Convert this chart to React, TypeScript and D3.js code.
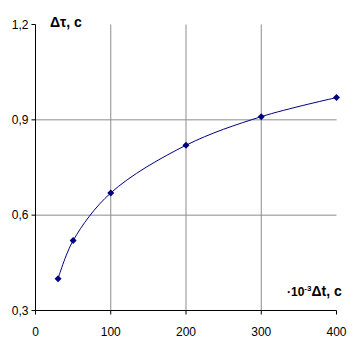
import React from "react";
import * as d3 from "d3";

const xValues = [30, 50, 100, 200, 300, 400];
const yValues = [0.4, 0.52, 0.67, 0.82, 0.91, 0.97];
const xTicks = [0, 100, 200, 300, 400];
const yTicks = [0.3, 0.6, 0.9, 1.2];
const yTitle = "Δτ, c";
const xTitlePre = "·10";
const xTitleSup = "-3";
const xTitlePost = "Δt, c";

export default function App() {
  const W = 362, H = 347;
  const x = d3.scaleLinear().domain([0, 400]).range([35.5, 336.5]);
  const y = d3.scaleLinear().domain([0.3, 1.2]).range([310.5, 24.5]);
  const pts: [number, number][] = xValues.map((v, i) => [x(v), y(yValues[i])]);
  const line = d3.line().curve(d3.curveCatmullRom.alpha(0.5))(pts) || "";
  const fmt = (v: number) => v.toFixed(1).replace(".", ",");
  const font = "Arial, 'Liberation Sans', sans-serif";
  return (
    <svg width={W} height={H} style={{ position: "absolute", left: 0, top: 0, background: "#fff" }} fontFamily={font}>
      {xTicks.filter((t) => t > 0 && t < 400).map((t) => (
        <line key={"gx" + t} x1={x(t)} x2={x(t)} y1={y(1.2)} y2={y(0.3)} stroke="#8c8c8c" strokeWidth={1} />
      ))}
      {yTicks.filter((t) => t > 0.3 && t < 1.2).map((t) => (
        <line key={"gy" + t} x1={x(0)} x2={x(400)} y1={y(t)} y2={y(t)} stroke="#8c8c8c" strokeWidth={1} />
      ))}
      <line x1={x(0)} x2={x(0)} y1={y(1.2)} y2={y(0.3)} stroke="#000" strokeWidth={1} />
      <line x1={x(0)} x2={x(400)} y1={y(0.3)} y2={y(0.3)} stroke="#000" strokeWidth={1} />
      {yTicks.map((t) => (
        <g key={"yt" + t}>
          <line x1={x(0) - 4} x2={x(0)} y1={y(t)} y2={y(t)} stroke="#000" />
          <text x={x(0) - 7} y={y(t)} dy="0.35em" textAnchor="end" fontSize={12} fill="#000">{fmt(t)}</text>
        </g>
      ))}
      {xTicks.map((t) => (
        <g key={"xt" + t}>
          <line x1={x(t)} x2={x(t)} y1={y(0.3)} y2={y(0.3) + 4} stroke="#000" />
          <text x={x(t)} y={y(0.3) + 25} textAnchor="middle" fontSize={12} fill="#000">{t}</text>
        </g>
      ))}
      <path d={line} fill="none" stroke="#000080" strokeWidth={1} />
      {pts.map(([px, py], i) => (
        <path key={"m" + i} d={`M${px},${py - 3.5}L${px + 3.5},${py}L${px},${py + 3.5}L${px - 3.5},${py}Z`} fill="#000080" />
      ))}
      <text x={50} y={27} fontSize={14} fontWeight="bold" fill="#000">{yTitle}</text>
      <text x={287} y={296} fontSize={12} fontWeight="bold" fill="#000">
        {xTitlePre}
        <tspan dy={-5} fontSize={8}>{xTitleSup}</tspan>
        <tspan dy={5} fontSize={14}>{xTitlePost}</tspan>
      </text>
    </svg>
  );
}
